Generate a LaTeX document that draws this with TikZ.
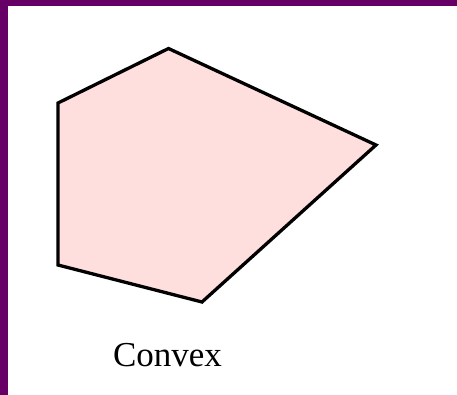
\documentclass[tikz,border=0pt]{standalone}
\usepackage{fontspec}
\setmainfont{Liberation Serif}
\usetikzlibrary{positioning, calc}
\definecolor{framecolor}{RGB}{102,0,102}
\definecolor{polyfill}{RGB}{255,222,222}
\tikzset{
  frame/.style  = {fill=framecolor, draw=none},
  poly/.style   = {draw=black, fill=polyfill, line width=3.3pt, line join=miter},
  label/.style  = {font=\fontsize{35}{40}\selectfont, inner sep=0pt, anchor=base},
}

\begin{document}
\begin{tikzpicture}[x=1pt, y=-1pt]
  % canvas and frame
  \fill[white] (0,0) rectangle (457,395);
  \useasboundingbox (0,0) rectangle (457,395);
  \fill[frame] (0,0) rectangle (7.5,395);
  \fill[frame] (0,0) rectangle (457,6);

  % polygon corners
  \coordinate (pa) at (58,103);
  \coordinate (pb) at (168.5,48.5);
  \coordinate (pc) at (376,145);
  \coordinate (pd) at (202,302);
  \coordinate (pe) at (58,265);
  \draw[poly] (pa) -- (pb) -- (pc) -- (pd) -- (pe) -- cycle;

  \node[label] (cap) at (167.5,366) {Convex};
\end{tikzpicture}
\end{document}
